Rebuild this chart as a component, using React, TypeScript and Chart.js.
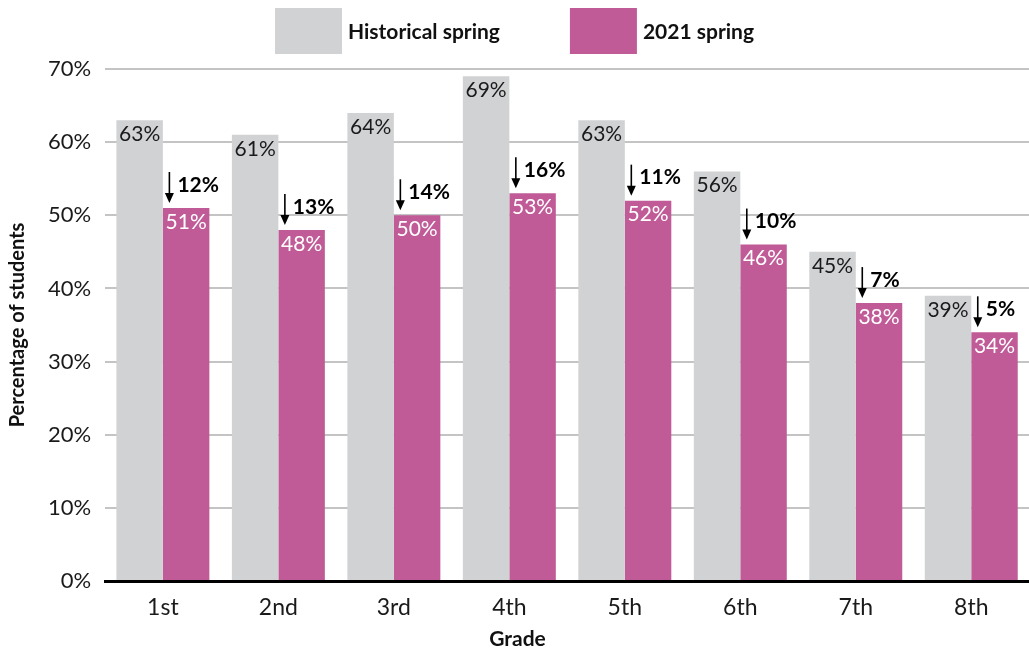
import React, { useEffect, useRef } from "react";
import { Chart, registerables } from "chart.js";

Chart.register(...registerables);

const grades = ["1st", "2nd", "3rd", "4th", "5th", "6th", "7th", "8th"];
const historical = [63, 61, 64, 69, 63, 56, 45, 39];
const spring2021 = [51, 48, 50, 53, 52, 46, 38, 34];
const drops = [12, 13, 14, 16, 11, 10, 7, 5];
const yTicks = [0, 10, 20, 30, 40, 50, 60, 70];
const seriesNames = ["Historical spring", "2021 spring"];
const colors = ["#d1d2d4", "#c05b98"];

const FONT = "Lato, 'Open Sans', sans-serif";

const labelPlugin = {
  id: "barLabels",
  afterDatasetsDraw(chart: any) {
    const ctx = chart.ctx;
    ctx.save();
    const m0 = chart.getDatasetMeta(0);
    const m1 = chart.getDatasetMeta(1);
    ctx.textAlign = "center";
    ctx.textBaseline = "middle";
    ctx.font = `21px ${FONT}`;
    m0.data.forEach((bar: any, i: number) => {
      ctx.fillStyle = "#1a1a1a";
      ctx.fillText(`${historical[i]}%`, bar.x, bar.y + 14);
    });
    m1.data.forEach((bar: any, i: number) => {
      ctx.fillStyle = "#ffffff";
      ctx.font = `21px ${FONT}`;
      ctx.textAlign = "center";
      ctx.textBaseline = "middle";
      ctx.fillText(`${spring2021[i]}%`, bar.x, bar.y + 14);
      // arrow
      const left = bar.x - bar.width / 2;
      const ax = left + 6.5;
      const top = bar.y - 36;
      const tip = bar.y - 5;
      ctx.strokeStyle = "#000";
      ctx.lineWidth = 1.6;
      ctx.beginPath();
      ctx.moveTo(ax, top);
      ctx.lineTo(ax, tip - 6);
      ctx.stroke();
      ctx.fillStyle = "#000";
      ctx.beginPath();
      ctx.moveTo(ax - 4.5, tip - 10);
      ctx.lineTo(ax + 4.5, tip - 10);
      ctx.lineTo(ax, tip);
      ctx.closePath();
      ctx.fill();
      ctx.font = `bold 21px ${FONT}`;
      ctx.textAlign = "left";
      ctx.textBaseline = "middle";
      ctx.fillText(`${drops[i]}%`, ax + 8, bar.y - 23);
    });
    ctx.restore();
  },
};

const legendPlugin = {
  id: "customLegend",
  afterDraw(chart: any) {
    const ctx = chart.ctx;
    ctx.save();
    ctx.font = `bold 21px ${FONT}`;
    const boxW = 67;
    const boxH = 46;
    const gapText = 6;
    const gapItem = 70;
    const widths = seriesNames.map((n) => ctx.measureText(n).width);
    const total = widths.reduce((a, w) => a + boxW + gapText + w, 0) + gapItem;
    let x = chart.width / 2 - total / 2;
    const y = 8;
    seriesNames.forEach((n, i) => {
      ctx.fillStyle = colors[i];
      ctx.fillRect(x, y, boxW, boxH);
      ctx.fillStyle = "#111";
      ctx.textAlign = "left";
      ctx.textBaseline = "middle";
      ctx.fillText(n, x + boxW + gapText, y + boxH / 2 + 1);
      x += boxW + gapText + widths[i] + gapItem;
    });
    ctx.restore();
  },
};

export default function App() {
  const ref = useRef<HTMLCanvasElement>(null);
  useEffect(() => {
    if (!ref.current) return;
    const chart = new Chart(ref.current, {
      type: "bar",
      data: {
        labels: grades,
        datasets: [
          { label: seriesNames[0], data: historical, backgroundColor: colors[0] },
          { label: seriesNames[1], data: spring2021, backgroundColor: colors[1] },
        ],
      },
      options: {
        animation: false,
        responsive: false,
        maintainAspectRatio: false,
        layout: { padding: { top: 69, right: 0, left: 6, bottom: 0 } },
        datasets: {
          bar: { categoryPercentage: 0.805, barPercentage: 1.0 },
        },
        plugins: {
          legend: { display: false },
          tooltip: { enabled: false },
          title: {
            display: true,
            position: "bottom",
            text: "Grade",
            color: "#111",
            font: { family: FONT, size: 21, weight: "bold", lineHeight: 1 },
            padding: { top: -5, bottom: 0 },
          },
        },
        scales: {
          x: {
            grid: { display: false, drawTicks: false },
            border: { display: true, color: "#000", width: 3 },
            ticks: {
              color: "#1a1a1a",
              font: { family: FONT, size: 23, lineHeight: 1 },
              padding: 15,
            },
          },
          y: {
            min: 0,
            max: 70,
            afterBuildTicks: (axis: any) => {
              axis.ticks = yTicks.map((v) => ({ value: v }));
            },
            grid: { color: "#c4c4c4", lineWidth: 2, drawTicks: false },
            border: { display: false },
            ticks: {
              color: "#1a1a1a",
              font: { family: FONT, size: 22 },
              padding: 14,
              callback: (v: any) => `${v}%`,
            },
            title: {
              display: true,
              text: "Percentage of students",
              color: "#111",
              font: { family: FONT, size: 20, weight: "bold" },
              padding: { top: 0, bottom: 4 },
            },
          },
        },
      },
      plugins: [labelPlugin, legendPlugin],
    } as any);
    return () => chart.destroy();
  }, []);
  return (
    <div style={{ position: "absolute", left: 0, top: 0, width: 1029, height: 650, background: "#fff" }}>
      <canvas ref={ref} width={1029} height={650} style={{ width: 1029, height: 650 }} />
    </div>
  );
}
